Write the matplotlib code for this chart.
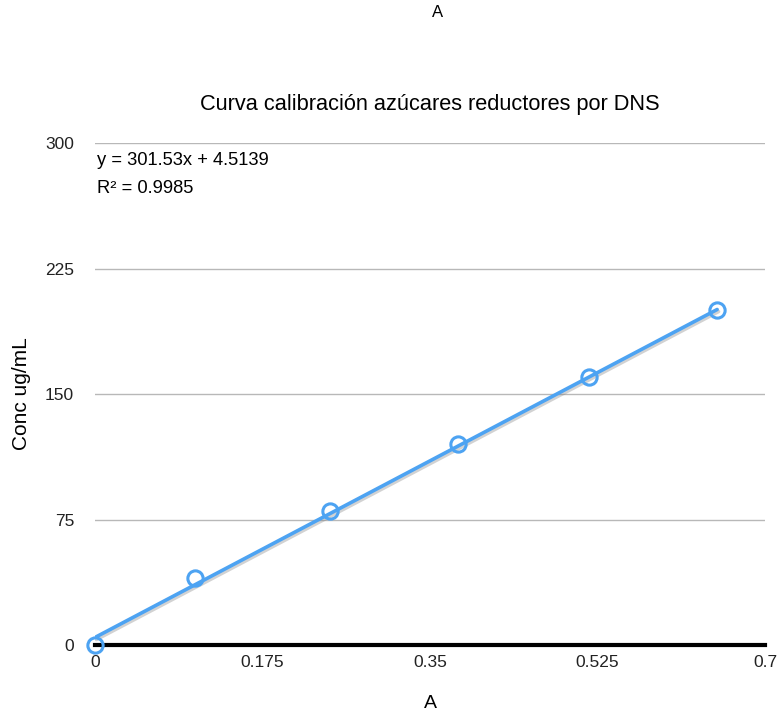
import numpy as np
import matplotlib.pyplot as plt
import matplotlib.patheffects as pe

plt.rcParams['font.family'] = ['Liberation Sans', 'DejaVu Sans']

# absorbance (A) vs concentration (ug/mL)
absorbance = [0.0, 0.104, 0.246, 0.379, 0.516, 0.650]
conc = [0, 40, 80, 120, 160, 200]
slope = 301.53
intercept = 4.5139
r2 = 0.9985

x_ticks = [0, 0.175, 0.35, 0.525, 0.7]
x_tick_labels = ['0', '0.175', '0.35', '0.525', '0.7']
y_ticks = [0, 75, 150, 225, 300]

blue = '#4da3f2'

fig = plt.figure(figsize=(7.78, 7.19), dpi=100)
ax = fig.add_axes([0.1221, 0.1029, 0.8612, 0.6982])

# trendline over the range of the data
xs = np.array([min(absorbance), max(absorbance)])
ax.plot(xs, slope * xs + intercept, color=blue, lw=2.6, zorder=3,
        solid_capstyle='round',
        path_effects=[pe.SimpleLineShadow(offset=(1, -1.5), alpha=0.35, shadow_color='gray'),
                      pe.Normal()])
ax.plot(absorbance, conc, 'o', ms=11, mfc='none', mec=blue, mew=2.2, zorder=4,
        clip_on=False)

ax.set_xlim(0, 0.7)
ax.set_ylim(0, 300)
ax.set_xticks(x_ticks)
ax.set_xticklabels(x_tick_labels)
ax.set_yticks(y_ticks)
ax.grid(axis='y', color='#b8b8b8', lw=1.0)
ax.set_axisbelow(True)
for s in ['left', 'right', 'top']:
    ax.spines[s].set_visible(False)
ax.spines['bottom'].set_linewidth(3)
ax.spines['bottom'].set_color('black')
ax.spines['bottom'].set_zorder(2)
ax.tick_params(axis='both', length=0, labelsize=12.5, labelcolor='#222222')
ax.tick_params(axis='y', pad=15)
ax.tick_params(axis='x', pad=7)

ax.set_xlabel('A', fontsize=14, labelpad=18)
ax.set_ylabel('Conc ug/mL', fontsize=15, labelpad=10)
ax.set_title('Curva calibración azúcares reductores por DNS', fontsize=15.7, pad=24, x=0.5)

ax.text(0.003, 0.983, f'y = {slope}x + {intercept}\nR² = {r2}', transform=ax.transAxes,
        fontsize=13.2, va='top', ha='left', linespacing=1.85)

fig.text(0.5625, 0.982, 'A', fontsize=12, ha='center', va='center')

fig.savefig('out.png', dpi=100)
